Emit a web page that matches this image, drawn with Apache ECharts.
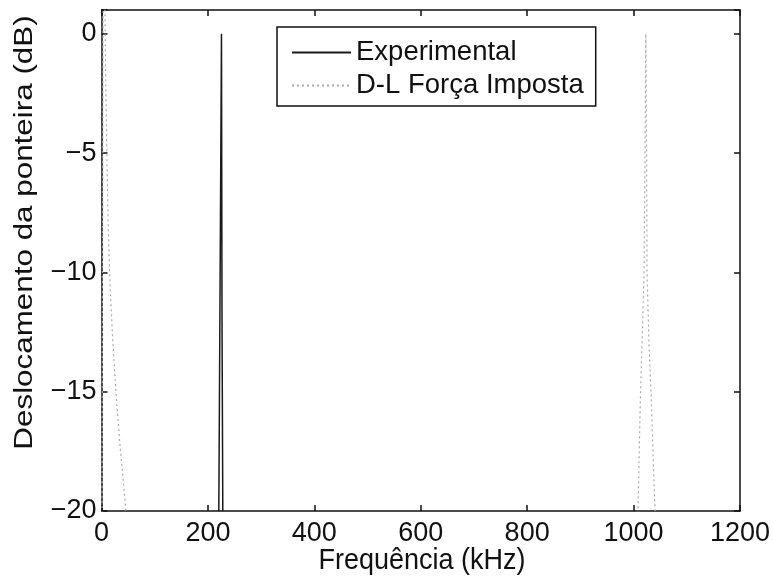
<!DOCTYPE html>
<html>
<head>
<meta charset="utf-8">
<script src="https://cdn.jsdelivr.net/npm/echarts@6/dist/echarts.min.js"></script>
<style>html,body{margin:0;padding:0;background:#fff}#c{width:773px;height:579px}</style>
</head>
<body>
<div id="c"></div>
<script>
// ---- data ----
const xTicks = [0, 200, 400, 600, 800, 1000, 1200];
const yTicks = [-20, -15, -10, -5, 0];

const expFreq = [220.5, 225.5, 226.5, 228];
const expDb   = [-20, 0, -12, -20];

// D-L Força Imposta: two visible resonance branches (null = gap below the axis)
const dlFreq = [1, 3, 6.5, 8, 10, 12.5, 16, 21, 27, 35, 42, 48, 500,
                1008, 1012.7, 1016.5, 1019.7, 1021.5, 1023, 1024.5, 1025.3, 1029, 1033.4, 1038, 1041];
const dlDb   = [-20.5, 2, 1, -2, -5, -8, -10.5, -12.8, -15, -17.3, -19, -20.5, null,
                -20.3, -15.4, -12.5, -10, -5, 0, -5, -10, -13, -15.4, -18.5, -20.3];

const seriesNames = ['Experimental', 'D-L Força Imposta'];
const xName = 'Frequência (kHz)';
const yName = 'Deslocamento da ponteira (dB)';

const toPairs = (xs, ys) => xs.map((x, i) => [x, ys[i]]);
const FONT = 'Liberation Sans';
const fmtNum = v => String(v).replace('-', '\u2212');

const chart = echarts.init(document.getElementById('c'), null, {renderer: 'canvas'});
const mkLine = () => ({show: true, onZero: false, lineStyle: {color: '#111', width: 1.5}});
const mkTick = () => ({show: true, inside: true, length: 6, lineStyle: {color: '#111', width: 1.5}});

chart.setOption({
  backgroundColor: '#fff',
  animation: false,
  grid: {left: 101.5, right: 30.5, top: 10, bottom: 68, containLabel: false},
  legend: {
    orient: 'vertical',
    left: 277, top: 27,
    padding: [11.5, 12, 6.5, 14],
    itemWidth: 59, itemHeight: 14, itemGap: 5,
    borderColor: '#111', borderWidth: 1.5, backgroundColor: '#fff',
    itemStyle: {opacity: 0},
    textStyle: {fontFamily: FONT, fontSize: 27.5, color: '#111', lineHeight: 28},
    data: seriesNames
  },
  xAxis: [{
    type: 'value', min: 0, max: 1200, interval: 200,
    position: 'bottom',
    axisLine: mkLine(), axisTick: mkTick(),
    axisLabel: {fontFamily: FONT, fontSize: 27, color: '#111', margin: 9,
      formatter: v => xTicks.includes(v) ? fmtNum(v) : ''},
    splitLine: {show: false}
  }, {
    type: 'value', min: 0, max: 1200, interval: 200, position: 'top',
    axisLine: mkLine(), axisTick: mkTick(), axisLabel: {show: false}, splitLine: {show: false}
  }],
  yAxis: [{
    type: 'value', min: -20, max: 1, interval: 5,
    position: 'left',
    axisLine: mkLine(), axisTick: mkTick(),
    axisLabel: {fontFamily: FONT, fontSize: 27, color: '#111', margin: 5,
      formatter: v => yTicks.includes(v) ? fmtNum(v) : ''},
    splitLine: {show: false}
  }, {
    type: 'value', min: -20, max: 1, interval: 5, position: 'right',
    axisLine: mkLine(), axisTick: mkTick(), axisLabel: {show: false}, splitLine: {show: false}
  }],
  graphic: [{
    type: 'text', x: 422, y: 561, scaleY: 1.12,
    style: {text: xName, fontFamily: FONT, fontSize: 27, fill: '#111', align: 'center', verticalAlign: 'middle'}
  }, {
    type: 'text', x: 25, y: 232.5, rotation: Math.PI / 2, scaleX: 1.207,
    style: {text: yName, fontFamily: FONT, fontSize: 26, fill: '#111', align: 'center', verticalAlign: 'middle'}
  }],
  series: [{
    name: seriesNames[0], type: 'line', xAxisIndex: 0, yAxisIndex: 0,
    data: toPairs(expFreq, expDb), symbol: 'none', clip: true,
    lineStyle: {color: '#1a1a1a', width: 1.5}, itemStyle: {color: '#1a1a1a'}
  }, {
    name: seriesNames[1], type: 'line', xAxisIndex: 0, yAxisIndex: 0,
    data: toPairs(dlFreq, dlDb), symbol: 'none', clip: true, connectNulls: false,
    lineStyle: {color: '#aaaaaa', width: 1.2, type: [2, 3]}, itemStyle: {color: '#aaaaaa'}
  }]
});
</script>
</body>
</html>
